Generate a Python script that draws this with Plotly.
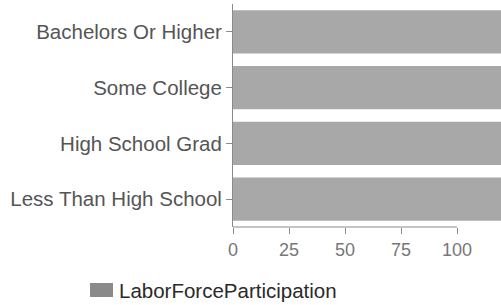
import plotly.graph_objects as go

categories = ["Bachelors Or Higher", "Some College", "High School Grad", "Less Than High School"]
labor_force_participation = [120, 120, 120, 120]
x_tick_values = [0, 25, 50, 75, 100]
x_tick_labels = ["0", "25", "50", "75", "100"]
series_name = "LaborForceParticipation"

bar_color = "#a8a8a8"
axis_color = "#8a8a8a"

fig = go.Figure()
fig.add_trace(go.Bar(
    y=categories,
    x=labor_force_participation,
    orientation="h",
    name=series_name,
    marker=dict(color=bar_color, line=dict(width=0)),
    showlegend=False,
))

fig.update_layout(
    width=501,
    height=305,
    margin=dict(l=233, r=0, t=4, b=78),
    paper_bgcolor="white",
    plot_bgcolor="white",
    bargap=0.22,
    font=dict(family="Liberation Sans, Arial, sans-serif"),
    xaxis=dict(
        range=[0, 119.6],
        tickvals=x_tick_values,
        ticktext=x_tick_labels,
        ticks="outside",
        ticklen=6,
        tickcolor=axis_color,
        tickfont=dict(size=18, color="#777777"),
        showgrid=False,
        zeroline=False,
        showline=False,
        fixedrange=True,
    ),
    yaxis=dict(
        autorange="reversed",
        ticks="outside",
        ticklen=6,
        tickcolor=axis_color,
        tickfont=dict(size=20.5, color="#555555"),
        showgrid=False,
        zeroline=False,
        showline=True,
        linecolor=axis_color,
        linewidth=1,
        fixedrange=True,
    ),
    shapes=[
        dict(type="line", xref="x", yref="paper", x0=0, x1=max(x_tick_values), y0=0, y1=0,
             line=dict(color=axis_color, width=1)),
        dict(type="rect", xref="paper", yref="paper",
             x0=(90 - 233) / 268, x1=(113 - 233) / 268,
             y0=-(283 - 227) / 223, y1=-(297 - 227) / 223,
             fillcolor="#8a8a8a", line=dict(width=0)),
    ],
    annotations=[
        dict(text=series_name, xref="paper", yref="paper",
             x=(117 - 233) / 268, y=-(290 - 227) / 223,
             xanchor="left", yanchor="middle", showarrow=False,
             font=dict(size=20.5, color="#2a2a2a")),
    ],
)

fig.write_html(
    "out.html",
    config={"displayModeBar": False},
    post_script="document.body.style.margin='0';document.body.style.overflow='hidden';",
)
